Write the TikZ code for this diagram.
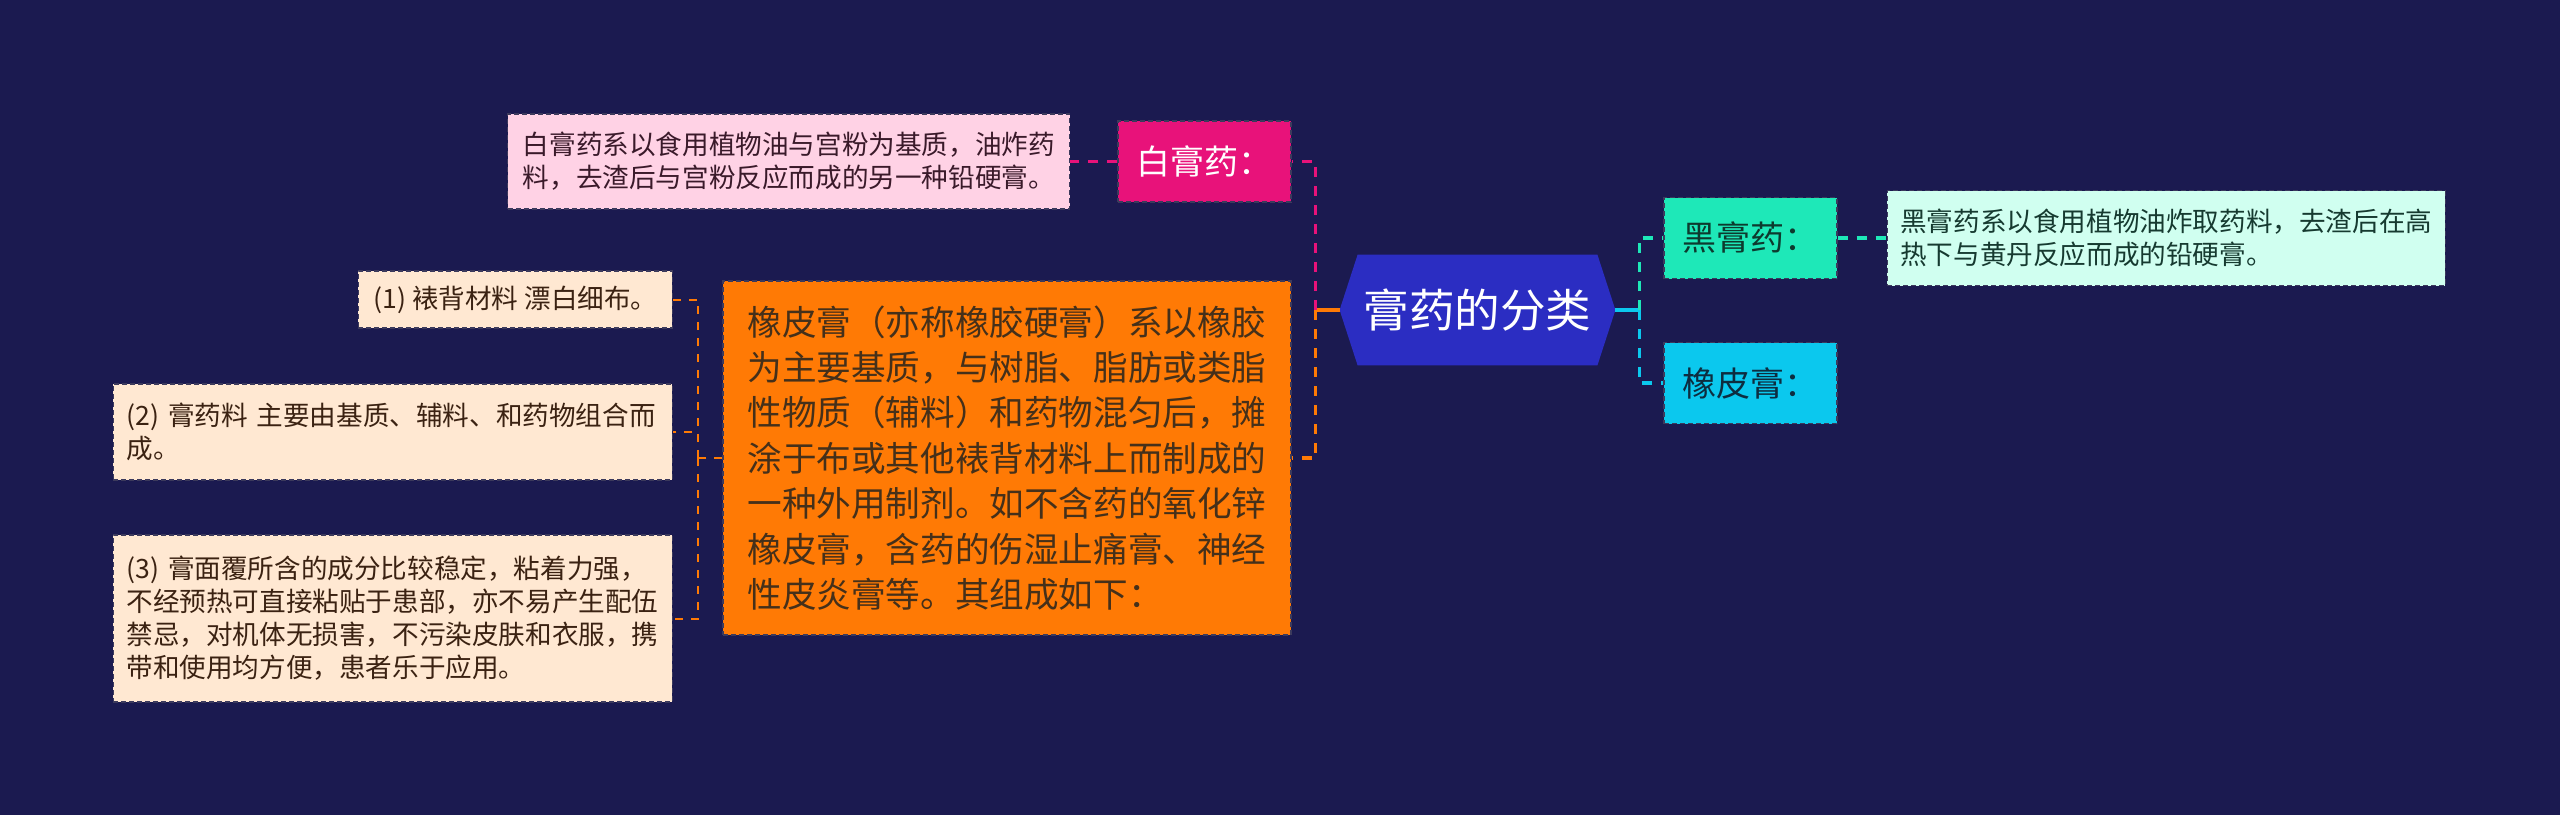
\documentclass[tikz,border=0pt]{standalone}
\usepackage{fontspec}
\newfontfamily\cjk{Noto Sans CJK SC}
\usetikzlibrary{positioning, calc, backgrounds}

\definecolor{bgnavy}{HTML}{1B1A50}
\definecolor{rootblue}{HTML}{2B2DC2}
\definecolor{hotpink}{HTML}{E8127A}
\definecolor{palepink}{HTML}{FFD2E5}
\definecolor{aqua}{HTML}{1EE8B8}
\definecolor{palemint}{HTML}{D0FFF0}
\definecolor{skycyan}{HTML}{0BC8EE}
\definecolor{deeporange}{HTML}{FF7A05}
\definecolor{peach}{HTML}{FFE8D2}
\definecolor{boxedge}{HTML}{3C3A5C}
\definecolor{browntext}{HTML}{45301A}
\definecolor{peachtext}{HTML}{3B2212}
\definecolor{pinktext}{HTML}{3A1A2A}
\definecolor{minttext}{HTML}{163A30}
\definecolor{aquatext}{HTML}{0D3A2E}
\definecolor{cyantext}{HTML}{0D2D40}

\begin{document}
\begin{tikzpicture}[
    x=0.5pt, y=-0.5pt,
    node distance=24pt,
    % Styles
    box/.style={
        draw=boxedge, dash pattern=on 2.5pt off 1.5pt, line width=0.6pt,
        rectangle, inner sep=0pt, align=left
    },
    rootbox/.style={
        rectangle, minimum width=137.5pt, minimum height=55pt,
        text=white, font=\cjk\fontsize{22.8pt}{26pt}\selectfont
    },
    topic/.style={
        box, minimum width=86.5pt, minimum height=40.5pt,
        font=\cjk\fontsize{17pt}{20pt}\selectfont
    },
    desc/.style={
        box, minimum width=280pt, minimum height=47.5pt,
        font=\cjk\fontsize{13.3pt}{16.5pt}\selectfont
    },
    part/.style={
        box, fill=peach, text=peachtext, anchor=east,
        font=\cjk\fontsize{13.3pt}{16.5pt}\selectfont
    },
    bigbox/.style={
        box, fill=deeporange, text=browntext,
        minimum width=284pt, minimum height=177pt,
        font=\cjk\fontsize{17.3pt}{22.7pt}\selectfont
    },
    link/.style={line width=1.6pt},
    dashlink/.style={line width=1.6pt, dash pattern=on 5pt off 4.5pt},
    thinlink/.style={line width=1pt, dash pattern=on 4pt off 4pt}
  ]

    \useasboundingbox (0,0) rectangle (2560,815);

    % --- Main topic and first level ---
    \node (root) [rootbox] at (1477.5,310) {膏药的分类};
    \node (baigao) [topic, fill=hotpink, text=white] at (1204.5,161.5) {白膏药：};
    \node (xpdesc) [bigbox] at (1007,458) {橡皮膏（亦称橡胶硬膏）系以橡胶\\为主要基质，与树脂、脂肪或类脂\\性物质（辅料）和药物混匀后，摊\\涂于布或其他裱背材料上而制成的\\一种外用制剂。如不含药的氧化锌\\橡皮膏，含药的伤湿止痛膏、神经\\性皮炎膏等。其组成如下：};
    \node (heigao) [topic, fill=aqua, text=aquatext] at (1750.5,238) {黑膏药：};
    \node (xiangpi) [topic, fill=skycyan, text=cyantext] at (1750.5,383) {橡皮膏：};

    % --- Descriptions ---
    \node (baidesc) [desc, fill=palepink, text=pinktext, minimum width=281pt, left=23.5pt of baigao] {白膏药系以食用植物油与宫粉为基质，油炸药\\料，去渣后与宫粉反应而成的另一种铅硬膏。};
    \node (heidesc) [desc, fill=palemint, text=minttext, minimum width=279pt, right=24.5pt of heigao] {黑膏药系以食用植物油炸取药料，去渣后在高\\热下与黄丹反应而成的铅硬膏。};

    % --- Parts of the rubber plaster ---
    \node (part1) [part, minimum width=157pt, minimum height=28.5pt] at (673,299.5) {(1) 裱背材料 漂白细布。};
    \node (part2) [part, text width=266.5pt, inner xsep=6.5pt, minimum height=48pt] at (673,432) {(2) 膏药料 主要由基质、辅料、和药物组合而\\成。};
    \node (part3) [part, text width=266.5pt, inner xsep=6.5pt, minimum height=83.5pt] at (673,618.5) {(3) 膏面覆所含的成分比较稳定，粘着力强，\\不经预热可直接粘贴于患部，亦不易产生配伍\\禁忌，对机体无损害，不污染皮肤和衣服，携\\带和使用均方便，患者乐于应用。};

    % --- Background and hexagon ---
    \begin{pgfonlayer}{background}
        \fill[bgnavy] (0,0) rectangle (2560,815);
        \fill[rootblue] (root.west) -- ([xshift=9pt]root.north west) -- ([xshift=-9pt]root.north east)
            -- (root.east) -- ([xshift=-9pt]root.south east) -- ([xshift=9pt]root.south west) -- cycle;
    \end{pgfonlayer}

    % --- Connectors ---
    \coordinate (ljoin) at ($(root.west)+(-12pt,0)$);
    \coordinate (rjoin) at ($(root.east)+(12pt,0)$);
    \coordinate (pjoin) at ($(xpdesc.west)+(-12pt,0)$);

    \draw[link, deeporange] (root.west) -- (ljoin);
    \draw[dashlink, hotpink] (ljoin) |- (baigao.east);
    \draw[dashlink, deeporange] (ljoin) |- (xpdesc.east);
    \draw[dashlink, hotpink] (baigao.west) -- (baidesc.east);

    \draw[link, skycyan] (root.east) -- (rjoin);
    \draw[dashlink, aqua] (rjoin) |- (heigao.west);
    \draw[dashlink, skycyan] (rjoin) |- (xiangpi.west);
    \draw[dashlink, aqua] (heigao.east) -- (heidesc.west);

    \draw[thinlink, deeporange] (xpdesc.west) -- (pjoin);
    \draw[thinlink, deeporange] (pjoin) |- (part1.east);
    \draw[thinlink, deeporange] (pjoin) |- (part2.east);
    \draw[thinlink, deeporange] (pjoin) |- (part3.east);

  \end{tikzpicture}
\end{document}
